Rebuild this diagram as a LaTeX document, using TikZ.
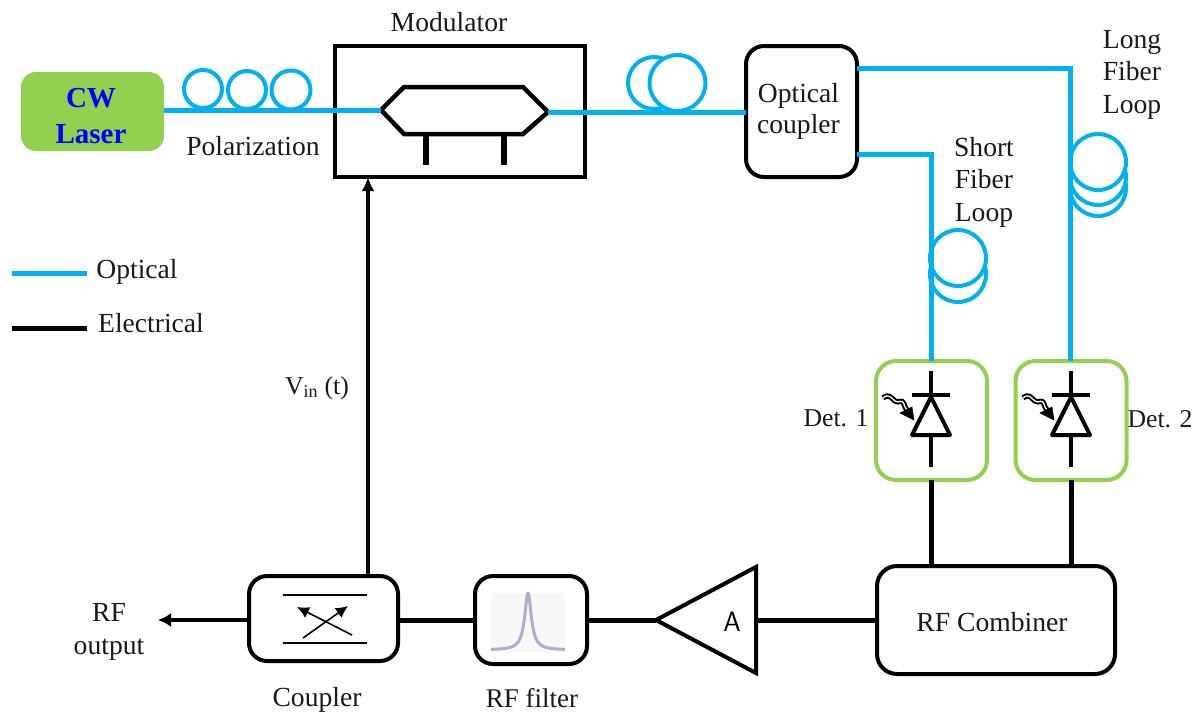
\documentclass[tikz,border=0pt]{standalone}
\usepackage{fontspec}
\setmainfont{Liberation Serif}
\usetikzlibrary{arrows.meta}
\definecolor{fib}{HTML}{00B0F0}
\definecolor{grn}{HTML}{92D050}
\tikzset{
 lbl/.style={font=\fontsize{27.6}{32.5}\selectfont,inner sep=0,align=center,text=black!90},
 lbs/.style={font=\fontsize{25.7}{32}\selectfont,inner sep=0,align=center,text=black!90},
 optic/.style={draw=fib,line width=5pt},
 elec/.style={draw=black,line width=5pt},
 coil/.style={draw=fib,line width=4pt,fill=white},
 blk/.style={draw=black,line width=4pt,fill=white,rounded corners=#1,outer sep=0,inner sep=0},
 blk/.default=18pt,
 grnbox/.style={draw=grn,line width=4pt,fill=white,rounded corners=20pt,outer sep=0,minimum width=111pt,minimum height=119pt},
}
\newcommand{\diode}[1]{%
 \draw[line width=4pt,line cap=butt] (#1,371)--(#1,395);
 \draw[line width=4pt] (#1-19,395)--(#1+19,395);
 \draw[line width=4pt,line join=round] (#1,397)--(#1+19,435)--(#1-19,435)--cycle;
 \draw[line width=4pt] (#1,435)--(#1,467);
 \draw[line width=2pt,double=white,double distance=1.3pt]
   (#1-48,398) .. controls (#1-42,393) and (#1-40,398) .. (#1-36,401)
   .. controls (#1-31,404) and (#1-30,398) .. (#1-27,404) .. controls (#1-26,408) and (#1-25,408) .. (#1-24,410);
 \draw[fill=black,line width=.5pt] (#1-31,413)--(#1-19,407)--(#1-17,420)--cycle;
}
\begin{document}
\begin{tikzpicture}[x=1pt,y=-1pt]
\useasboundingbox (0,0) rectangle (1201,713);
% coils
\draw[coil] (203,89) circle (19);
\draw[coil] (247,90) circle (19);
\draw[coil] (291,90) circle (19.5);
\draw[coil] (654,83) circle (26);
\draw[coil] (677.5,83) circle (28);
\draw[coil] (958,274) circle (28);
\draw[coil] (958,258) circle (28);
\draw[coil] (1098,188) circle (28);
\draw[coil] (1098,177) circle (28);
\draw[coil] (1098,162) circle (28);
% nodes
\node[fill=grn,draw=none,rounded corners=15pt,minimum width=143pt,minimum height=79pt,outer sep=0,inner sep=0] (laser) at (92.5,111.5) {};
\node[font=\fontsize{29}{36}\selectfont\bfseries,text=blue,align=center,inner sep=0] (lasert) at (91,116) {CW\\Laser};
\node[draw=black,line width=4pt,minimum width=250pt,minimum height=131pt,outer sep=0] (mod) at (460,111.5) {};
\node[blk,minimum width=111pt,minimum height=131pt] (ocp) at (801.5,111.5) {};
\node[lbl,font=\fontsize{27.6}{31}\selectfont] (ocpt) at (798.5,111.5) {Optical\\coupler};
\node[grnbox] (d1) at (931.5,420.5) {};
\node[grnbox] (d2) at (1071,420.5) {};
\node[blk=20pt,minimum width=238pt,minimum height=108pt] (comb) at (996,620) {};
\node[lbl] (combt) at (992,622) {RF Combiner};
\node[blk,minimum width=112pt,minimum height=88pt] (filt) at (531,620) {};
\node[blk,minimum width=149pt,minimum height=85pt] (cpl) at (323.5,618.5) {};
% hexagon
\coordinate (hw) at (381,110);
\coordinate (he) at (548,112);
\draw[line width=4.5pt,line join=miter] (hw)--(404,87)--(523,87)--(he)--(523,134)--(404,134)--cycle;
\draw[line width=6pt] (426,134)--(426,165);
\draw[line width=6pt] (504,134)--(504,165);
% optical
\coordinate (lg1) at (1070,68);
\coordinate (sh1) at (931,154);
\coordinate (ocl) at (857,68);
\coordinate (ocs) at (857,154);
\coordinate (d1t) at (931,361);
\coordinate (d2t) at (1070,361);
\draw[optic] (laser.east|-hw)--(hw);
\draw[optic] (he)--(ocp.west|-he);
\draw[optic,line join=miter] (ocl)--(lg1)--(d2t);
\draw[optic,line join=miter] (ocs)--(sh1)--(d1t);
% diodes
\diode{931}
\diode{1071}
% amp
\coordinate (ampa) at (656,620);
\coordinate (ampb) at (756,620);
\draw[line width=4pt,fill=white,line join=miter] (ampa)--(756,567)--(756,673)--cycle;
\node[font=\fontsize{28}{32}\selectfont\sffamily,inner sep=0] (ampl) at (732,622) {A};
% electrical
\draw[elec] (d1.south)--(comb.north-|d1);
\draw[elec] (d2.south)--(comb.north-|d2);
\draw[elec] (ampb)--(comb.west);
\draw[elec] (filt.east)--(ampa);
\draw[elec] (cpl.east|-filt)--(filt.west);
\coordinate (rfo) at (158,620);
\draw[line width=4pt,-{Latex[length=13pt,width=14pt]}] (cpl.west|-rfo)--(rfo);
\coordinate (cu) at (368,576);
\draw[line width=3.5pt,-{Latex[length=14pt,width=13pt]}] (cu)--(mod.south-|cu);
% coupler inside
\draw[line width=2pt] (283,595)--(367,595);
\draw[line width=2pt] (283,643)--(367,643);
\draw[line width=1.6pt,-{Latex[length=12pt,width=12pt]}] (303,638)--(348,606);
\draw[line width=1.6pt,-{Latex[length=12pt,width=12pt]}] (352,635)--(297,607);
% filter inside
\fill[black!3] (491,593) rectangle (565,652);
\draw[draw=blue!45!black!60!white,line width=3pt,opacity=.5] plot[domain=491:565,samples=120,smooth] (\x,{650-57/(1+((\x-528)/4)^2)});
% legend
\coordinate (la) at (12,273); \coordinate (lb) at (87,273);
\coordinate (lc) at (12,328); \coordinate (ld) at (87,328);
\draw[optic] (la)--(lb);
\draw[elec] (lc)--(ld);
% labels
\node[lbl] (t1) at (449,22) {Modulator};
\node[lbl] (t2) at (253,146) {Polarization};
\node[lbl] (t3) at (1132,74.5) {Long\\Fiber\\Loop};
\node[lbl] (t4) at (984,182) {Short\\Fiber\\Loop};
\node[lbl] (t5) at (137,272) {Optical};
\node[lbl] (t6) at (151,323) {Electrical};
\node[lbs] (t7) at (317,388) {V\textsubscript{in} (t)};
\node[lbs] (t8) at (836,418) {Det. 1};
\node[lbs] (t9) at (1160,419) {Det. 2};
\node[lbl] (t10) at (109,632) {RF\\output};
\node[lbl] (t11) at (317,700) {Coupler};
\node[lbl,font=\fontsize{27}{32}\selectfont] (t12) at (532,698) {RF filter};
\end{tikzpicture}
\end{document}
